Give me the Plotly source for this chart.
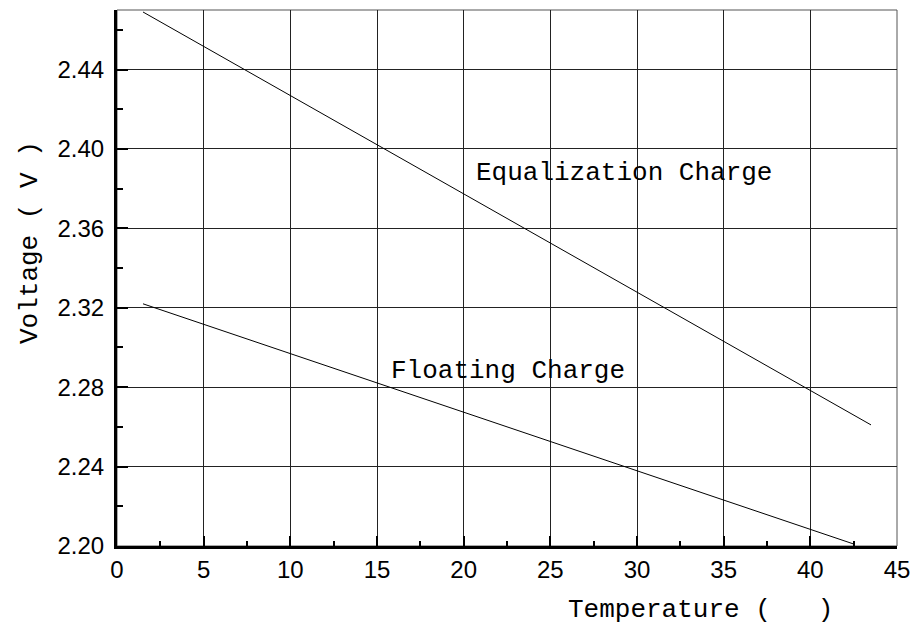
import plotly.graph_objects as go

# Data
eq_temp = [1.5, 43.5]
eq_volt = [2.469, 2.261]
fl_temp = [1.5, 42.5]
fl_volt = [2.322, 2.201]

x_ticks = [0, 5, 10, 15, 20, 25, 30, 35, 40, 45]
y_ticks = [2.20, 2.24, 2.28, 2.32, 2.36, 2.40, 2.44]
y_labels = ["2.20", "2.24", "2.28", "2.32", "2.36", "2.40", "2.44"]

mono = "Liberation Mono"
sans = "Liberation Sans, Arial"

fig = go.Figure()
fig.add_trace(go.Scatter(x=eq_temp, y=eq_volt, mode="lines",
                         line=dict(color="black", width=1), showlegend=False))
fig.add_trace(go.Scatter(x=fl_temp, y=fl_volt, mode="lines",
                         line=dict(color="black", width=1), showlegend=False))

fig.update_layout(
    width=913, height=628,
    margin=dict(l=117, r=16, t=10, b=82),
    paper_bgcolor="white", plot_bgcolor="white",
    xaxis=dict(range=[0, 45], tickvals=x_ticks, ticktext=[str(v) for v in x_ticks],
               automargin=False,
               ticks="inside", ticklen=10, tickwidth=2, tickcolor="black",
               showline=True, linewidth=3, linecolor="black",
               showgrid=True, gridcolor="#222", gridwidth=1, zeroline=False,
               tickfont=dict(family=sans, size=24, color="black"),
               ticklabelstandoff=0,
               minor=dict(tick0=0, dtick=2.5, ticks="inside", ticklen=5,
                          tickwidth=2, tickcolor="black", showgrid=False)),
    yaxis=dict(range=[2.20, 2.47], tickvals=y_ticks, ticktext=y_labels,
               automargin=False,
               ticks="inside", ticklen=11, tickwidth=2, tickcolor="black",
               showline=True, linewidth=3, linecolor="black",
               showgrid=True, gridcolor="#222", gridwidth=1, zeroline=False,
               tickfont=dict(family=sans, size=24, color="black"),
               ticklabelstandoff=5,
               minor=dict(tick0=2.20, dtick=0.02, ticks="inside", ticklen=6,
                          tickwidth=2, tickcolor="black", showgrid=False)),
)

# thin frame on top and right
fig.add_shape(type="rect", xref="paper", yref="paper", x0=0, y0=0, x1=1, y1=1,
              line=dict(color="#555", width=1), layer="below")

fig.add_annotation(x=20.6, y=2.388, xref="x", yref="y", text="Equalization Charge",
                   showarrow=False, xanchor="left", yanchor="middle",
                   font=dict(family=mono, size=26, color="black"))
fig.add_annotation(x=15.7, y=2.288, xref="x", yref="y", text="Floating Charge",
                   showarrow=False, xanchor="left", yanchor="middle",
                   font=dict(family=mono, size=26, color="black"))
fig.add_annotation(x=566, y=610, xref="paper", yref="paper", text="Temperature (\u00a0\u00a0\u00a0)",
                   showarrow=False, xanchor="left", yanchor="middle",
                   font=dict(family=mono, size=26, color="black"))
fig.add_annotation(x=30, y=243, xref="paper", yref="paper", text="Voltage ( V )",
                   showarrow=False, textangle=-90, xanchor="center", yanchor="middle",
                   font=dict(family=mono, size=26, color="black"))

# convert pixel positions of the two axis-title annotations into paper coords
pw, ph = 913 - 117 - 16, 628 - 10 - 82
for ann in fig.layout.annotations[2:]:
    ann.x = (ann.x - 117) / pw
    ann.y = 1 - (ann.y - 10) / ph

fig.write_html("out.html", config={"displayModeBar": False},
               post_script="document.body.style.margin='0';document.body.style.overflow='hidden';")
